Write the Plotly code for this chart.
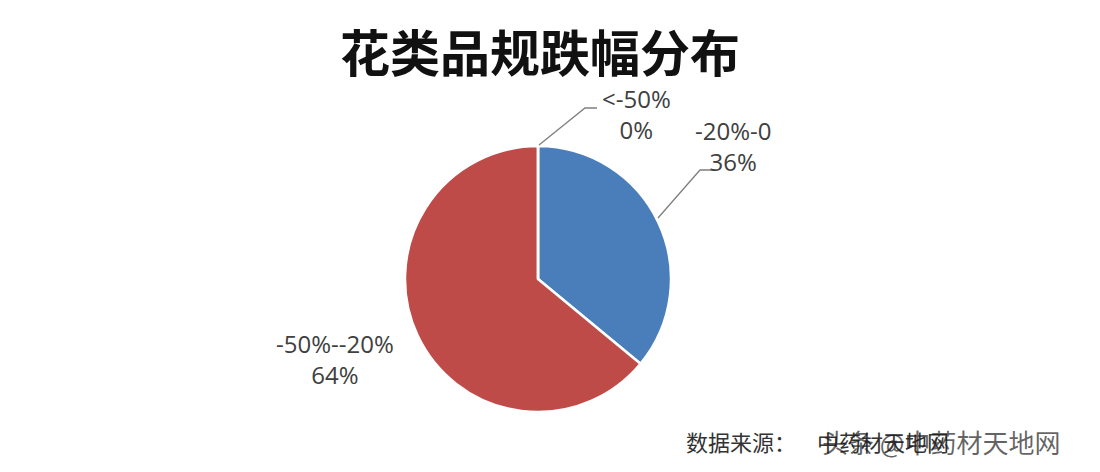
import plotly.graph_objects as go

title = "花类品规跌幅分布"
categories = ["-20%-0", "-50%--20%", "<-50%"]
values = [36, 64, 0]
colors = ["#4A7EBB", "#BE4B48", "#9BBB59"]
source_text = "数据来源："
source_name = "中药材天地网"
watermark = "头条 @中药材天地网"

W, H = 1100, 472
OFF = 8  # page body margin offset in the browser
cx, cy, r = 538, 279, 133

def px(x):
    return (x - OFF) / W

def py(y):
    return 1 - (y - OFF) / H

fig = go.Figure(go.Pie(
    labels=categories,
    values=values,
    sort=False,
    direction="clockwise",
    rotation=0,
    marker=dict(colors=colors, line=dict(color="white", width=2.5)),
    textinfo="none",
    hoverinfo="label+percent",
    showlegend=False,
    domain=dict(x=[px(cx - r), px(cx + r)], y=[py(cy + r), py(cy - r)]),
))

total = sum(values)
pct = [f"{round(v / total * 100)}%" for v in values]

label_pos = {
    "-20%-0": (733, 146),
    "-50%--20%": (335, 359),
    "<-50%": (636, 114),
}
leaders = {
    "-20%-0": [(658, 218), (700, 170), (716, 170)],
    "<-50%": [(539, 145), (585, 108), (597, 108)],
}

annotations = [
    dict(text=f"<b>{title}</b>", x=px(540), y=py(50), xref="paper", yref="paper",
         showarrow=False, font=dict(family="Noto Sans CJK SC", size=50, color="#111111"),
         xanchor="center", yanchor="middle"),
]
for cat, p in zip(categories, pct):
    lx, ly = label_pos[cat]
    annotations.append(dict(
        text=f"{cat}<br>{p}", x=px(lx), y=py(ly), xref="paper", yref="paper",
        showarrow=False, align="center", xanchor="center", yanchor="middle",
        font=dict(family="Open Sans", size=24, color="#404040"),
    ))

annotations.append(dict(text=source_text, x=px(684), y=py(441), xref="paper", yref="paper",
                        showarrow=False, xanchor="left", yanchor="middle",
                        font=dict(family="Noto Sans CJK SC", size=22, color="#333333")))
annotations.append(dict(text=source_name, x=px(815), y=py(441), xref="paper", yref="paper",
                        showarrow=False, xanchor="left", yanchor="middle",
                        font=dict(family="Noto Sans CJK SC", size=22, color="#333333")))
annotations.append(dict(text=watermark, x=px(820), y=py(441), xref="paper", yref="paper",
                        showarrow=False, xanchor="left", yanchor="middle",
                        font=dict(family="Noto Sans CJK SC", size=26, color="rgba(30,30,30,0.7)")))

shapes = []
for cat, pts in leaders.items():
    path = "M " + " L ".join(f"{px(x)},{py(y)}" for x, y in pts)
    shapes.append(dict(type="path", path=path, xref="paper", yref="paper",
                       line=dict(color="#7F7F7F", width=1.3)))
shapes.append(dict(type="line", x0=px(1097), x1=px(1097), y0=0, y1=1, xref="paper", yref="paper",
                   line=dict(color="#D0D0D0", width=2)))

fig.update_layout(
    width=W, height=H,
    margin=dict(l=0, r=0, t=0, b=0),
    paper_bgcolor="white",
    plot_bgcolor="white",
    annotations=annotations,
    shapes=shapes,
)

fig.write_html("out.html")
